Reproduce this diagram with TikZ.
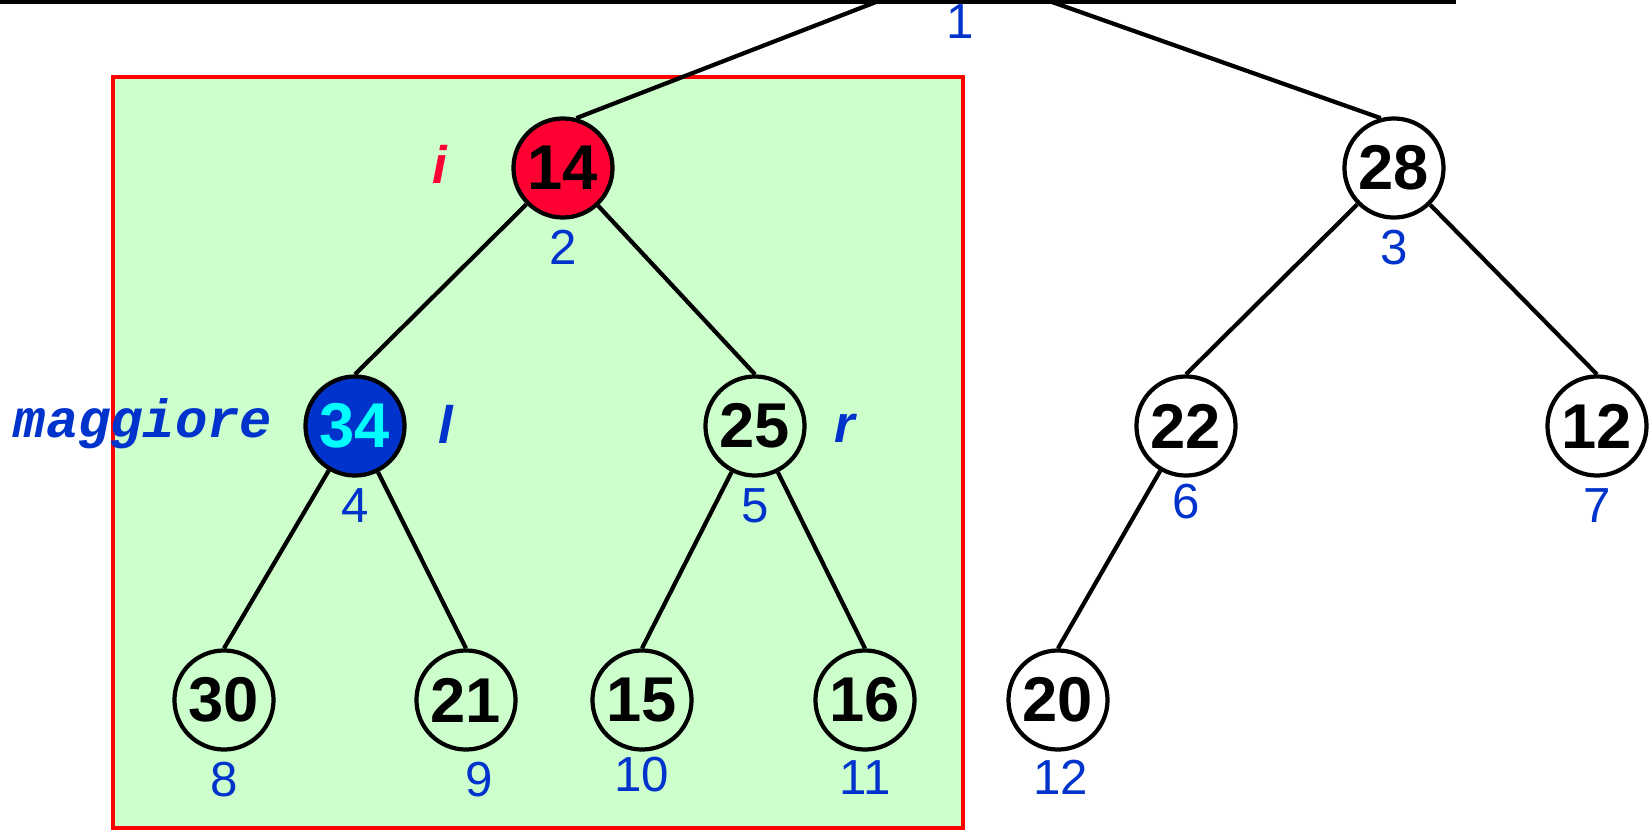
\documentclass[tikz,border=0pt]{standalone}
\usepackage{fontspec}
\setmainfont{Liberation Sans}
\newfontfamily\codefont{Liberation Mono}
\usetikzlibrary{positioning}
\definecolor{heapred}{HTML}{FF0033}
\definecolor{heapblue}{HTML}{0033CC}
\definecolor{heapcyan}{HTML}{00FFFF}
\definecolor{heapgreen}{HTML}{CCFFCC}

\begin{document}
\begin{tikzpicture}[x=0.01cm, y=-0.01cm,
    key/.style={circle, draw, line width=1.2pt, minimum size=0.99cm, inner sep=0pt,
                font=\fontsize{18}{18}\selectfont\bfseries},
    idx/.style={inner sep=0pt, text=heapblue, font=\fontsize{14}{14}\selectfont},
    ptr/.style={inner sep=0pt, anchor=base, font=\fontsize{15}{15}\selectfont\bfseries\itshape},
    edge/.style={line width=1.2pt}]
    \useasboundingbox (0,0) rectangle (1650,830);

    % sottoalbero di i
    \draw[red, line width=0.9pt, fill=heapgreen] (113,77) rectangle (963,828);

    % taglio in alto
    \coordinate (cutl) at (0,2);
    \coordinate (cutr) at (1456,2);
    \draw[line width=1.3pt] (cutl) -- (cutr);
    \coordinate (up14) at (876,2);
    \coordinate (up28) at (1052,2);

    \node[key, fill=heapred] (n14) at (563,168) {14};
    \node[key] (n28) at (1394,168) {28};
    \node[key, fill=heapblue, text=heapcyan] (n34) at (355,426) {34};
    \node[key] (n25) at (755,426) {25};
    \node[key] (n22) at (1186,426) {22};
    \node[key] (n12) at (1597,426) {12};
    \node[key] (n30) at (224,700) {30};
    \node[key] (n21) at (466,700) {21};
    \node[key] (n15) at (642,700) {15};
    \node[key] (n16) at (865,700) {16};
    \node[key] (n20) at (1058,700) {20};

    \draw[edge] (n14.75) -- (up14);
    \draw[edge] (n28.105) -- (up28);
    \draw[edge] (n14) -- (n34.north);
    \draw[edge] (n14) -- (n25.north);
    \draw[edge] (n28) -- (n22.north);
    \draw[edge] (n28) -- (n12.north);
    \draw[edge] (n34) -- (n30.north);
    \draw[edge] (n34) -- (n21.north);
    \draw[edge] (n25) -- (n15.north);
    \draw[edge] (n25) -- (n16.north);
    \draw[edge] (n22) -- (n20.north);

    % indici
    \node[idx, anchor=north] (i1) at (960,4) {1};
    \node[idx, below=0.1cm of n14] (i2) {2};
    \node[idx, below=0.1cm of n28] (i3) {3};
    \node[idx, below=0.1cm of n34] (i4) {4};
    \node[idx, below=0.1cm of n25] (i5) {5};
    \node[idx, below=0.06cm of n22] (i6) {6};
    \node[idx, below=0.1cm of n12] (i7) {7};
    \node[idx, below=0.1cm of n30] (i8) {8};
    \node[idx, below=0.1cm of n21, xshift=0.13cm] (i9) {9};
    \node[idx, below=0.05cm of n15] (i10) {10};
    \node[idx, below=0.08cm of n16] (i11) {11};
    \node[idx, below=0.08cm of n20, xshift=0.03cm] (i12) {12};

    \node[ptr, text=heapred] (pi) at (440,183) {i};
    \node[ptr, text=heapblue] (pl) at (446,443) {l};
    \node[ptr, text=heapblue] (pr) at (845,442) {r};
    \node[ptr, text=heapblue, font=\fontsize{15.3}{15}\selectfont\codefont\bfseries\itshape] (pmax) at (143,437) {maggiore};
\end{tikzpicture}
\end{document}
